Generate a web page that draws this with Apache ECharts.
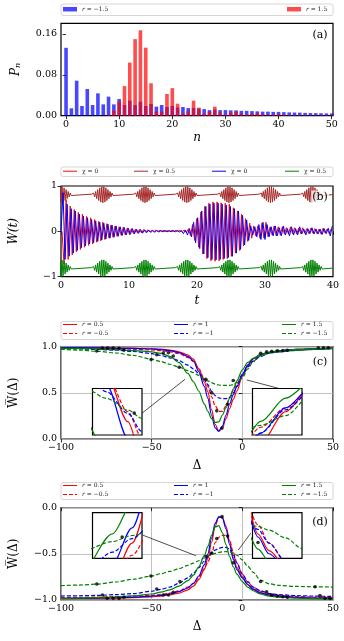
<!DOCTYPE html>
<html><head><meta charset="utf-8">
<script src="https://cdn.jsdelivr.net/npm/echarts/dist/echarts.min.js"></script>
<style>html,body{margin:0;padding:0;background:#fff}#c{width:344px;height:641px}</style>
</head><body><div id="c"></div>
<script>
// ---------- DATA ----------
// (a) photon-number distributions P_n, n = 0..50
const pBlue = [0.133,0.0145,0.0686,0.019,0.0523,0.021,0.0438,0.0222,0.0373,0.0222,
  0.0327,0.021,0.0294,0.021,0.0275,0.019,0.023,0.0177,0.021,0.017,
  0.019,0.016,0.017,0.015,0.015,0.014,0.013,0.011,0.012,0.011,
  0.011,0.0105,0.0105,0.0095,0.0095,0.009,0.0085,0.008,0.008,0.0075,
  0.0075,0.007,0.0065,0.0062,0.006,0.0055,0.0052,0.005,0.0048,0.0045,0.0043];
const pRed = [0,0,0,0,0,0,0,0,0.002,0.01,
  0.0275,0.058,0.104,0.150,0.1673,0.1333,0.0635,0.008,0.008,0.0425,
  0.054,0.0235,0.004,0.009,0.0294,0.0157,0.004,0.008,0.0177,0.006,
  0.002,0.006,0.008,0.004,0.002,0.004,0.005,0.003,0.001,0.002,
  0.003,0.002,0.001,0.001,0.001,0.001,0.001,0.001,0.001,0.001,0.001];
const aXTicks = [0,10,20,30,40,50];
const aYTicks = [0,0.08,0.16];

// (b) W(t): oscillation extrema, sampled every bStep
const bStep = 0.3;
const blueT0 = 0.0;
const blueW = [0,
 0.85,-0.62,0.6,-0.55,0.5,-0.48,0.45,-0.42,0.38,-0.36,
 0.34,-0.32,0.3,-0.28,0.26,-0.25,0.23,-0.22,0.2,-0.19,
 0.18,-0.17,0.16,-0.15,0.14,-0.13,0.12,-0.11,0.1,-0.09,
 0.085,-0.08,0.07,-0.065,0.06,-0.055,0.05,-0.045,0.04,-0.04,
 0.035,-0.03,0.03,-0.025,0.02,-0.02,0.02,-0.015,0.015,-0.012,
 0.01,-0.01,0.01,-0.008,0.008,-0.01,0.01,-0.015,0.01,-0.05,
 0.03,-0.08,0.06,-0.12,0.2,-0.25,0.3,-0.38,0.45,-0.5,
 0.55,-0.58,0.6,-0.62,0.62,-0.63,0.62,-0.62,0.6,-0.6,
 0.58,-0.58,0.55,-0.55,0.5,-0.48,0.45,-0.4,0.35,-0.3,
 0.25,-0.2,0.12,-0.08,0.1,-0.12,0.15,-0.18,0.2,-0.18,
 0.15,-0.12,0.1,-0.1,0.12,-0.1,0.08,-0.1,0.12,-0.08,
 0.06,-0.1,0.1,-0.08,0.06,-0.08,0.1,-0.06,0.05,-0.08,
 0.06,-0.05,0.08,-0.06,0.05,-0.06,0.05,-0.07,0.06,-0.05,
 0.07,-0.1,0.12];
const redT0 = 0.15;
const redW = [0,-0.72,0.7,-0.62,0.56,-0.52,0.48,-0.45,0.42,-0.4,
 0.38,-0.35,0.33,-0.31,0.3,-0.28,0.26,-0.24,0.22,-0.21,
 0.2,-0.18,0.17,-0.15,0.14,-0.13,0.12,-0.11,0.1,-0.09,
 0.09,-0.08,0.075,-0.06,0.06,-0.05,0.05,-0.04,0.045,-0.035,
 0.04,-0.02,0.035,-0.015,0.03,-0.01,0.03,-0.005,0.025,0,
 0.025,0.005,0.02,0.005,0.02,0.008,0.02,0.01,0.02,0,
 0.03,-0.03,0.06,-0.1,0.15,-0.2,0.28,-0.35,0.42,-0.5,
 0.55,-0.6,0.62,-0.65,0.65,-0.66,0.65,-0.65,0.63,-0.62,
 0.62,-0.6,0.6,-0.55,0.52,-0.48,0.45,-0.42,0.38,-0.32,
 0.28,-0.22,0.18,-0.15,0.12,-0.1,0.12,-0.15,0.18,-0.15,
 0.2,-0.12,0.1,-0.08,0.12,-0.1,0.1,-0.08,0.1,-0.06,
 0.08,-0.06,0.1,-0.05,0.08,-0.06,0.07,-0.05,0.08,-0.04,
 0.06,-0.05,0.07,-0.04,0.06,-0.05,0.05,-0.06,0.07,-0.04,
 0.05,-0.05,0.06];
// chi = 0.5 curves: wave packets around offset baselines
const packetCenters = [0, 6.15, 12.35, 18.5, 24.7, 30.8, 36.9];
const packetStep = 0.15;
const brownBase = 0.81;
const brownPacket = [0.01,-0.02,0.035,-0.05,0.07,-0.09,0.11,-0.13,0.15,-0.165,0.175,-0.18,0.175,-0.165,0.15,-0.13,0.11,-0.09,0.07,-0.05,0.035,-0.02,0.01];
const greenBase = -0.81;
const greenPacket = [0.01,-0.02,0.035,-0.05,0.07,-0.09,0.11,-0.13,0.15,-0.17,0.18,-0.19,0.18,-0.17,0.15,-0.13,0.11,-0.09,0.07,-0.05,0.035,-0.02,0.01];

// (c),(d) averaged W vs detuning
const dGrid = [-100,-90,-80,-70,-60,-50,-45,-40,-35,-30,-27,-24,-21,-19,-17,-15,-13,-11,-9,-7,-5,-3,0,3,6,10,15,20,30,40,50];
const cR05  = [0.99,0.989,0.988,0.986,0.983,0.978,0.973,0.963,0.945,0.91,0.865,0.76,0.62,0.51,0.32,0.16,0.085,0.12,0.22,0.33,0.43,0.52,0.68,0.8,0.87,0.915,0.94,0.955,0.97,0.978,0.985];
const cRm05 = [0.985,0.983,0.98,0.977,0.972,0.965,0.957,0.945,0.925,0.885,0.84,0.76,0.65,0.57,0.46,0.36,0.3,0.3,0.36,0.45,0.53,0.6,0.7,0.79,0.85,0.905,0.935,0.95,0.965,0.975,0.982];
const cB1   = [0.99,0.989,0.987,0.985,0.981,0.975,0.969,0.957,0.935,0.895,0.845,0.73,0.57,0.44,0.26,0.12,0.085,0.14,0.26,0.38,0.48,0.57,0.7,0.8,0.87,0.915,0.94,0.955,0.97,0.978,0.985];
const cBm1  = [0.978,0.975,0.97,0.963,0.948,0.925,0.905,0.88,0.85,0.8,0.76,0.71,0.645,0.59,0.52,0.47,0.445,0.437,0.437,0.45,0.5,0.57,0.69,0.78,0.84,0.895,0.93,0.945,0.962,0.972,0.98];
const cG15  = [0.985,0.981,0.976,0.968,0.958,0.945,0.928,0.895,0.83,0.71,0.62,0.52,0.38,0.3,0.22,0.18,0.185,0.26,0.34,0.44,0.54,0.63,0.75,0.83,0.875,0.915,0.94,0.955,0.97,0.978,0.985];
const cGm15 = [0.972,0.963,0.95,0.932,0.905,0.865,0.84,0.81,0.78,0.74,0.72,0.69,0.655,0.63,0.61,0.595,0.585,0.58,0.58,0.58,0.59,0.61,0.66,0.76,0.84,0.9,0.93,0.945,0.96,0.97,0.978];
const cDots = [[-80.3,0.953],[-77.2,0.985],[-74.3,0.985],[-71.2,0.985],[-68.0,0.984],[-65.3,0.964],[-50.3,0.86],[-47.2,0.912],[-43.6,0.932],[-40.8,0.935],[-38.1,0.90],[-34.8,0.778],[-20.1,0.646],[-16.9,0.50],[-14.1,0.305],[-11.2,0.118],[-8.2,0.376],[-5.0,0.633],[10.1,0.928],[13.4,0.946],[16.2,0.951],[19.3,0.955],[22.3,0.958],[24.8,0.962],[41.9,0.988],[44.7,0.988],[47.4,0.988]];

const dR05  = [-0.985,-0.984,-0.982,-0.979,-0.974,-0.966,-0.958,-0.945,-0.925,-0.89,-0.85,-0.78,-0.67,-0.55,-0.38,-0.2,-0.1,-0.105,-0.2,-0.36,-0.54,-0.65,-0.75,-0.83,-0.88,-0.92,-0.945,-0.958,-0.972,-0.98,-0.985];
const dRm05 = [-0.975,-0.972,-0.968,-0.964,-0.958,-0.95,-0.94,-0.925,-0.9,-0.86,-0.82,-0.76,-0.66,-0.59,-0.5,-0.38,-0.32,-0.3,-0.3,-0.36,-0.48,-0.6,-0.72,-0.81,-0.86,-0.905,-0.935,-0.95,-0.962,-0.97,-0.975];
const dB1   = [-0.982,-0.98,-0.978,-0.974,-0.968,-0.958,-0.95,-0.935,-0.91,-0.87,-0.82,-0.74,-0.62,-0.5,-0.33,-0.17,-0.1,-0.11,-0.23,-0.4,-0.56,-0.67,-0.76,-0.835,-0.885,-0.925,-0.948,-0.96,-0.972,-0.98,-0.985];
const dBm1  = [-0.957,-0.954,-0.95,-0.942,-0.93,-0.905,-0.885,-0.86,-0.82,-0.76,-0.71,-0.65,-0.58,-0.535,-0.49,-0.46,-0.44,-0.43,-0.43,-0.45,-0.51,-0.6,-0.72,-0.8,-0.86,-0.9,-0.93,-0.942,-0.953,-0.958,-0.962];
const dG15  = [-0.985,-0.98,-0.975,-0.968,-0.955,-0.935,-0.915,-0.89,-0.85,-0.79,-0.73,-0.64,-0.52,-0.42,-0.3,-0.21,-0.195,-0.27,-0.4,-0.53,-0.64,-0.72,-0.8,-0.86,-0.9,-0.935,-0.958,-0.97,-0.98,-0.985,-0.99];
const dGm15 = [-0.845,-0.838,-0.828,-0.805,-0.775,-0.74,-0.715,-0.69,-0.66,-0.625,-0.6,-0.575,-0.545,-0.525,-0.51,-0.495,-0.485,-0.478,-0.476,-0.478,-0.49,-0.515,-0.565,-0.635,-0.7,-0.785,-0.825,-0.842,-0.853,-0.857,-0.86];
const dDots = [[-80.3,-0.827],[-77.2,-0.946],[-74.5,-0.982],[-71.2,-0.982],[-68.0,-0.982],[-65.3,-0.971],[-50.4,-0.74],[-47.2,-0.881],[-43.6,-0.946],[-40.8,-0.946],[-38.1,-0.917],[-34.4,-0.80],[-20.0,-0.53],[-16.9,-0.49],[-14.1,-0.335],[-11.2,-0.097],[-8.1,-0.307],[-5.0,-0.596],[10.1,-0.80],[13.4,-0.91],[16.2,-0.946],[19.3,-0.957],[22.3,-0.964],[24.8,-0.971],[40.1,-0.856],[42.8,-0.953],[45.6,-0.982],[48.3,-0.982]];

// annotation arrows (data coords): [from, to, curveness]
const arrowsC = [[[-55.3,0.28],[-31.6,0.647],0],[[19.8,0.55],[2.4,0.64],0.45]];
const arrowsD = [[[-55.1,-0.296],[-25.6,-0.52],0],[[4.6,-0.277],[-2.2,-0.458],-0.45]];

// ---------- CHART ----------
const FONT = 'DejaVu Serif';
const minus = v => String(v).replace('-', '\u2212');
const RED = '#ff0000', BLUE = '#0000ff', GREEN = '#008000', BROWN = '#a52a2a';
const DASH = [4, 2];
const ICON_SOLID = 'path://M0,0H14V1H0Z';
const ICON_DASH = 'path://M0,0H4V1H0Z M6,0H10V1H6Z M12,0H14V1H12Z';

function axis(grid, min, max, opts) {
  opts = opts || {};
  const a = {
    type: 'value', gridIndex: grid, min: min, max: max,
    axisLine: { show: false },
    axisTick: { show: true, inside: false, length: 3.5, lineStyle: { color: '#000', width: 0.8 } },
    axisLabel: { color: '#000', fontFamily: FONT, fontSize: 9.5, margin: 4, formatter: opts.fmt || (v => minus(v)) },
    splitLine: { show: !!opts.split, lineStyle: { color: '#b0b0b0', width: 0.8 } }
  };
  if (opts.interval) a.interval = opts.interval;
  if (opts.custom) { a.axisLabel.customValues = opts.custom; a.axisTick.customValues = opts.custom; }
  if (opts.name) {
    a.name = opts.name; a.nameLocation = 'middle'; a.nameGap = opts.gap;
    a.nameTextStyle = Object.assign({ fontFamily: FONT, fontSize: 12, color: '#000' }, opts.nameStyle || {});
  }
  return a;
}
function hidden(grid, min, max) {
  return { type: 'value', gridIndex: grid, min: min, max: max, show: false, splitLine: { show: false } };
}

const grids = [
  { left: 61, top: 23.3, width: 272, height: 92.4, show: true, borderColor: '#000', borderWidth: 1.2 },
  { left: 61, top: 186, width: 272, height: 90.7, show: true, borderColor: '#000', borderWidth: 1.2 },
  { left: 61, top: 346.7, width: 272, height: 92.3, show: true, borderColor: '#000', borderWidth: 1.2 },
  { left: 61, top: 507.7, width: 272, height: 92.3, show: true, borderColor: '#000', borderWidth: 1.2 }
];
const insets = [
  { panel: 'c', box: [92.5, 388.5, 49.5, 46.5], x: [-26, -19], y: [0.58, 0.72] },
  { panel: 'c', box: [252.5, 388.5, 49.5, 46.5], x: [-4, 2], y: [0.56, 0.8] },
  { panel: 'd', box: [92.5, 512.7, 49.5, 45.6], x: [-23, -18], y: [-0.6, -0.45] },
  { panel: 'd', box: [252.5, 512.7, 49.5, 45.6], x: [-6, 3], y: [-0.7, -0.4] }
];
insets.forEach(s => grids.push({ left: s.box[0], top: s.box[1], width: s.box[2], height: s.box[3], show: true,
  backgroundColor: '#fff', borderColor: '#000', borderWidth: 1.2, z: 5 }));

const xAxes = [
  axis(0, -0.95, 50.25, { custom: aXTicks, fmt: v => String(v), name: 'n', gap: 16, nameStyle: { fontStyle: 'italic' } }),
  axis(1, 0, 40, { interval: 10, fmt: v => String(v), name: 't', gap: 18, nameStyle: { fontStyle: 'italic' } }),
  axis(2, -100, 50, { interval: 50, split: true, name: '\u0394', gap: 21 }),
  axis(3, -100, 50, { interval: 50, split: true, name: '\u0394', gap: 21 })
];
const yAxes = [
  axis(0, 0, 0.181, { custom: aYTicks, fmt: v => v.toFixed(2), name: '{i|P}{s|n}', gap: 39,
    nameStyle: { rich: { i: { fontFamily: FONT, fontSize: 12, fontStyle: 'italic', verticalAlign: 'bottom', lineHeight: 14 },
                         s: { fontFamily: FONT, fontSize: 8, fontStyle: 'italic', verticalAlign: 'bottom', lineHeight: 7 } } } }),
  axis(1, -1, 1, { interval: 1, name: 'W(t)', gap: 41, nameStyle: { fontStyle: 'italic' } }),
  axis(2, 0, 1, { interval: 0.5, split: true, fmt: v => v.toFixed(1), name: 'W\u0305(\u0394)', gap: 41 }),
  axis(3, -1, 0, { interval: 0.5, split: true, fmt: v => minus(v.toFixed(1)), name: 'W\u0305(\u0394)', gap: 41 })
];
insets.forEach((s, k) => { xAxes.push(hidden(4 + k, s.x[0], s.x[1])); yAxes.push(hidden(4 + k, s.y[0], s.y[1])); });

const series = [];
// (a)
const nValues = pBlue.map((_, i) => i);
series.push({ type: 'bar', name: 'r = \u22121.5\u200b', xAxisIndex: 0, yAxisIndex: 0, barWidth: 3.6, barGap: '-100%',
  itemStyle: { color: 'rgba(0,0,255,0.72)' }, data: nValues.map((n, i) => [n, pBlue[i]]) });
series.push({ type: 'bar', name: 'r = 1.5\u200b', xAxisIndex: 0, yAxisIndex: 0, barWidth: 3.6, barGap: '-100%',
  itemStyle: { color: 'rgba(255,0,0,0.7)' }, data: nValues.map((n, i) => [n, pRed[i]]) });
// (b)
function packets(base, shape) {
  const out = [];
  const mid = (shape.length - 1) / 2;
  packetCenters.forEach(c => shape.forEach((v, j) => out.push([c + (j - mid) * packetStep, base + v])));
  out.push([40, base]);
  return out;
}
const bLine = (name, color, data) => ({ type: 'line', name, xAxisIndex: 1, yAxisIndex: 1, showSymbol: false, symbol: 'none',
  lineStyle: { color, width: 1 }, itemStyle: { color }, data, clip: true });
series.push(bLine('\u03c7 = 0', RED, redW.map((v, i) => [redT0 + i * bStep, v])));
series.push(bLine('\u03c7 = 0.5', BROWN, packets(brownBase, brownPacket)));
series.push(bLine('\u03c7 = 0\u200b', BLUE, blueW.map((v, i) => [blueT0 + i * bStep, v])));
series.push(bLine('\u03c7 = 0.5\u200b', GREEN, packets(greenBase, greenPacket)));
// (c),(d)
const curveDefs = [
  { name: 'r = 0.5', color: RED, dash: 'solid', c: cR05, d: dR05 },
  { name: 'r = \u22120.5', color: RED, dash: DASH, c: cRm05, d: dRm05 },
  { name: 'r = 1', color: BLUE, dash: 'solid', c: cB1, d: dB1 },
  { name: 'r = \u22121', color: BLUE, dash: DASH, c: cBm1, d: dBm1 },
  { name: 'r = 1.5', color: GREEN, dash: 'solid', c: cG15, d: dG15 },
  { name: 'r = \u22121.5', color: GREEN, dash: DASH, c: cGm15, d: dGm15 }
];
function arrowLines(list) {
  return list.map(a => [{ coord: a[0], symbol: 'none', lineStyle: { curveness: a[2] } }, { coord: a[1], symbol: 'arrow' }]);
}
function curveSeries(panel, axisIdx, z, withArrows) {
  curveDefs.forEach((cd, k) => {
    const s = { type: 'line', name: cd.name, xAxisIndex: axisIdx, yAxisIndex: axisIdx, showSymbol: false, symbol: 'none',
      smooth: 0.3, smoothMonotone: 'x', z: z, silent: true, clip: true,
      lineStyle: { color: cd.color, width: 1.2, type: cd.dash }, itemStyle: { color: cd.color },
      data: dGrid.map((x, i) => [x, cd[panel][i]]) };
    if (withArrows && k === 5) {
      s.markLine = { silent: true, symbolSize: [0, 5], label: { show: false }, animation: false,
        lineStyle: { color: '#000', width: 0.7, type: 'solid' },
        data: arrowLines(panel === 'c' ? arrowsC : arrowsD) };
    }
    series.push(s);
  });
  series.push({ type: 'scatter', name: 'dots', xAxisIndex: axisIdx, yAxisIndex: axisIdx, symbolSize: 3.6, z: z + 1,
    itemStyle: { color: '#000' }, silent: true, clip: true, data: panel === 'c' ? cDots : dDots });
}
curveSeries('c', 2, 2, true);
curveSeries('d', 3, 2, true);
insets.forEach((s, k) => curveSeries(s.panel, 4 + k, 6, false));

// legends
const fmtName = n => n.replace(/[\u200b]/g, '').replace(/^r /, '{i|r} ');
function leg(name, left, cy, kind) {
  const rect = kind === 'rect';
  const l = { data: [name], left: left, top: cy - 3.5, padding: 0, itemWidth: 14, itemHeight: rect ? 4.5 : 1.3,
    selectedMode: false, formatter: fmtName, z: 6,
    icon: rect ? 'rect' : (kind === 'dash' ? ICON_DASH : ICON_SOLID),
    textStyle: { fontSize: 6, fontFamily: FONT, color: '#222', rich: { i: { fontSize: 6, fontFamily: FONT, fontStyle: 'italic', color: '#222' } } } };
  return l;
}
const legends = [
  leg('r = \u22121.5\u200b', 63, 9.7, 'rect'), leg('r = 1.5\u200b', 287, 9.7, 'rect'),
  leg('\u03c7 = 0', 63, 171.7), leg('\u03c7 = 0.5', 134, 171.7), leg('\u03c7 = 0\u200b', 212, 171.7), leg('\u03c7 = 0.5\u200b', 285, 171.7)
];
[[325, 334], [486, 495]].forEach(rows => {
  const cols = [63, 174, 282];
  curveDefs.forEach((cd, k) => legends.push(leg(cd.name, cols[Math.floor(k / 2)], rows[k % 2], cd.dash === 'solid' ? 'solid' : 'dash')));
});

// frames & panel labels
const box = (x, y, w, h) => ({ type: 'rect', shape: { x, y, width: w, height: h, r: 2 }, style: { fill: '#fff', stroke: '#cccccc', lineWidth: 0.8 }, z: 1, silent: true });
const tag = (t, x, y, bg) => ({ type: 'text', x, y, z: 20, silent: true,
  style: { text: t, font: '11px "DejaVu Serif"', fill: '#000', align: 'center', verticalAlign: 'middle',
    backgroundColor: bg ? 'rgba(255,255,255,0.8)' : 'transparent', padding: bg ? [1, 1] : 0 } });
const graphic = [
  box(61, 4, 272, 11.5), box(61, 167, 272, 9.5), box(61, 321.5, 272, 18), box(61, 482.5, 272, 17),
  tag('(a)', 320, 35), tag('(b)', 320, 197, true), tag('(c)', 320, 362), tag('(d)', 320, 522)
];

const chart = echarts.init(document.getElementById('c'), null, { renderer: 'canvas' });
chart.setOption({
  animation: false,
  textStyle: { fontFamily: FONT },
  grid: grids, xAxis: xAxes, yAxis: yAxes,
  legend: legends, series: series, graphic: graphic
});
</script></body></html>
